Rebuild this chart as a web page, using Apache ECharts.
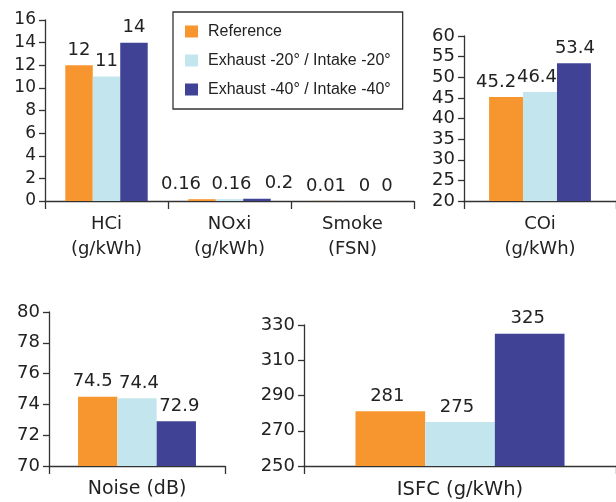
<!DOCTYPE html>
<html>
<head>
<meta charset="utf-8">
<script src="https://cdn.jsdelivr.net/npm/echarts@6/dist/echarts.min.js"></script>
<style>html,body{margin:0;padding:0;background:#fff;}#c{width:616px;height:502px;}</style>
</head>
<body>
<div id="c"></div>
<script>
const seriesNames = ['Reference', 'Exhaust -20° / Intake -20°', 'Exhaust -40° / Intake -40°'];
const seriesColors = ['#F7962F', '#C3E6EE', '#404295'];

const emissionCats = ['HCi\n(g/kWh)', 'NOxi\n(g/kWh)', 'Smoke\n(FSN)'];
const emissionRef = [12, 0.16, 0.01];
const emission20 = [11, 0.16, 0];
const emission40 = [14, 0.2, 0];

const coCats = ['COi\n(g/kWh)'];
const coRef = [45.2];
const co20 = [46.4];
const co40 = [53.4];

const noiseCats = ['Noise (dB)'];
const noiseRef = [74.5];
const noise20 = [74.4];
const noise40 = [72.9];

const isfcCats = ['ISFC (g/kWh)'];
const isfcRef = [281];
const isfc20 = [275];
const isfc40 = [325];

const NUMFONT = 'DejaVu Sans, sans-serif';
const LEGFONT = 'Liberation Sans, Arial, Helvetica, sans-serif';
const TXT = '#222';
const AX = '#333';

// label horizontal nudges per series (to keep value labels from overlapping), per category
const panels = [
  {cats: emissionCats, data: [emissionRef, emission20, emission40], min: 0, max: 16, interval: 2,
   grid: {left: 45, top: 20, width: 369, height: 181}, tickFont: 17, catFont: 18, valFont: 18,
   nudge: [[0, -21, 1], [0, 2, 12], [0, 22, 7]]},
  {cats: coCats, data: [coRef, co20, co40], min: 20, max: 60, interval: 5,
   grid: {left: 464, top: 36, width: 176, height: 165}, tickFont: 18, catFont: 18, valFont: 18,
   nudge: [[-10], [-3], [1]]},
  {cats: noiseCats, data: [noiseRef, noise20, noise40], min: 70, max: 80, interval: 2,
   grid: {left: 49, top: 312, width: 176, height: 159}, tickFont: 18, catFont: 19, valFont: 18,
   nudge: [[-5], [2], [3]]},
  {cats: isfcCats, data: [isfcRef, isfc20, isfc40], min: 250, max: 330, interval: 20,
   grid: {left: 304, top: 325, width: 345, height: 146}, tickFont: 18, catFont: 19.5, valFont: 18,
   nudge: [[-3], [-3], [-2]]}
];

const grids = [], xAxes = [], yAxes = [], series = [];
panels.forEach((p, i) => {
  grids.push(Object.assign({containLabel: false}, p.grid));
  xAxes.push({
    type: 'category', gridIndex: i, data: p.cats,
    axisLine: {show: true, lineStyle: {color: AX, width: 1.3}},
    axisTick: {show: true, length: 8, alignWithLabel: false, lineStyle: {color: AX, width: 1.3}},
    axisLabel: {color: TXT, fontFamily: NUMFONT, fontSize: p.catFont, lineHeight: 25, margin: 11, interval: 0}
  });
  yAxes.push({
    type: 'value', gridIndex: i, min: p.min, max: p.max, interval: p.interval,
    splitLine: {show: false},
    axisLine: {show: true, lineStyle: {color: AX, width: 1.3}},
    axisTick: {show: true, length: 6, lineStyle: {color: AX, width: 1.3}},
    axisLabel: {color: TXT, fontFamily: NUMFONT, fontSize: p.tickFont, margin: 9}
  });
  p.data.forEach((arr, k) => {
    series.push({
      type: 'bar', name: seriesNames[k], xAxisIndex: i, yAxisIndex: i,
      data: arr.map((v, j) => ({value: v, label: {offset: [p.nudge[k][j] || 0, 0]}})),
      barGap: '0%', barCategoryGap: '33%',
      itemStyle: {color: seriesColors[k]},
      label: {show: true, position: 'top', distance: 6, color: TXT, fontFamily: NUMFONT, fontSize: p.valFont},
      emphasis: {disabled: true}, animation: false
    });
  });
});

const chart = echarts.init(document.getElementById('c'), null, {renderer: 'canvas'});
chart.setOption({
  animation: false,
  backgroundColor: '#fff',
  legend: {
    data: seriesNames, orient: 'vertical', left: 173, top: 12,
    itemWidth: 13, itemHeight: 12, itemGap: 12, selectedMode: false,
    borderColor: AX, borderWidth: 1.3, padding: [11, 12, 11, 12],
    icon: 'rect',
    textStyle: {color: TXT, fontFamily: LEGFONT, fontSize: 16, lineHeight: 17, padding: [0, 0, 0, 5]}
  },
  grid: grids, xAxis: xAxes, yAxis: yAxes, series: series
});
</script>
</body>
</html>
